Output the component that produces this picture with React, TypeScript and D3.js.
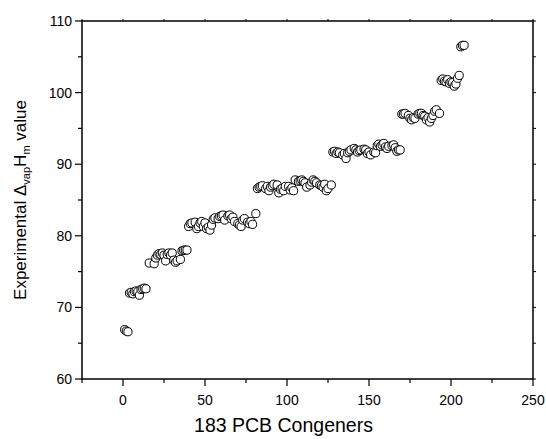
import React from "react";
import * as d3 from "d3";

const congeners: number[] = [
  1, 2, 3,
  4, 5, 6, 7, 8, 9, 10, 11, 12, 13, 14,
  16, 19, 20, 21, 22, 23, 24, 25, 26, 27, 28, 29, 30, 31, 32, 33, 35, 36, 37, 38, 39,
  40, 41, 42, 44, 45, 46, 47, 48, 49, 50, 51, 52, 53, 54, 55, 56, 58, 59, 60, 61, 62, 64, 65, 66, 67, 68, 70, 71, 72, 73, 74, 76, 77, 78, 79, 81,
  82, 83, 84, 85, 87, 88, 89, 90, 91, 92, 94, 95, 96, 97, 98, 99, 101, 102, 103, 104, 105, 107, 108, 109, 110, 111, 112, 114, 115, 116, 117, 118, 120, 121, 122, 123, 124, 125, 127,
  128, 129, 130, 131, 132, 134, 135, 136, 137, 138, 139, 141, 142, 143, 144, 145, 147, 148, 149, 150, 151, 153, 154, 155, 156, 157, 158, 159, 160, 161, 162, 164, 165, 166, 167, 168, 169,
  170, 171, 172, 174, 175, 176, 177, 178, 180, 181, 182, 183, 184, 185, 186, 187, 188, 189, 190, 191, 193,
  194, 195, 196, 197, 198, 199, 200, 201, 202, 203, 204, 205,
  206, 207, 208,
];

const enthalpies: number[] = [
  66.9, 66.7, 66.6,
  72.0, 72.1, 71.9, 72.2, 72.3, 72.2, 71.7, 72.5, 72.6, 72.7, 72.6,
  76.2, 76.1, 76.9, 77.3, 77.5, 77.4, 77.6, 77.3, 76.5, 77.4, 77.6, 77.3, 77.6, 76.6, 76.3, 76.5, 76.7, 77.9, 78.0, 78.0, 78.0,
  81.3, 81.7, 81.8, 81.9, 81.0, 81.3, 81.8, 82.0, 81.3, 81.8, 81.0, 81.2, 80.8, 81.5, 82.3, 82.5, 82.4, 82.7, 82.8, 82.9, 82.2, 82.8, 82.9, 82.4, 82.6, 82.0, 81.7, 81.5, 81.3, 82.2, 82.4, 81.9, 81.7, 82.0, 81.6, 83.1,
  86.6, 86.8, 86.9, 87.0, 86.6, 86.9, 86.3, 86.8, 87.0, 87.2, 87.1, 86.0, 86.5, 86.6, 86.3, 86.9, 86.9, 86.4, 86.7, 86.3, 87.8, 87.6, 87.7, 87.8, 87.6, 87.4, 86.8, 87.1, 87.5, 87.8, 87.6, 87.4, 87.1, 87.0, 86.8, 87.2, 86.3, 86.6, 87.1,
  91.7, 91.8, 91.5, 91.7, 91.6, 91.3, 91.5, 90.8, 91.6, 91.8, 92.0, 92.2, 92.0, 91.7, 91.9, 92.0, 92.1, 92.0, 91.5, 91.7, 91.3, 91.7, 91.6, 92.6, 92.8, 92.5, 92.7, 92.9, 92.4, 92.2, 92.5, 92.6, 92.7, 92.3, 91.8, 92.0, 92.0,
  97.0, 97.0, 97.1, 96.8, 96.4, 96.2, 96.5, 96.4, 97.0, 97.1, 97.1, 96.8, 96.7, 96.2, 96.5, 95.9, 96.4, 96.8, 97.4, 97.6, 97.1,
  101.7, 101.9, 101.6, 101.5, 101.8, 101.3, 101.5, 101.4, 100.9, 101.2, 102.0, 102.4,
  106.4, 106.6, 106.6,
];

const xTicks: number[] = [-25, 0, 25, 50, 75, 100, 125, 150, 175, 200, 225, 250];
const xLabels: number[] = [0, 50, 100, 150, 200, 250];
const yTicks: number[] = [60, 65, 70, 75, 80, 85, 90, 95, 100, 105, 110];
const yLabels: number[] = [60, 70, 80, 90, 100, 110];

const W = 546;
const H = 439;
const L = 82, R = 533, T = 21, B = 379;
const FONT = "'Liberation Sans', Arial, Helvetica, sans-serif";

export default function App() {
  const x = d3.scaleLinear().domain([-25, 250]).range([L, R]);
  const y = d3.scaleLinear().domain([60, 110]).range([B, T]);
  const pts = congeners.map((c, i) => ({ c, v: enthalpies[i] }));

  return (
    <svg
      width={W}
      height={H}
      viewBox={`0 0 ${W} ${H}`}
      style={{ position: "absolute", left: 0, top: 0, background: "#fff" }}
      fontFamily={FONT}
    >
      <rect x={0} y={0} width={W} height={H} fill="#fff" />
      <rect x={L} y={T} width={R - L} height={B - T} fill="none" stroke="#000" strokeWidth={1.5} />
      {xTicks.map((t) => {
        const major = t % 50 === 0;
        return (
          <line key={"xb" + t} x1={x(t)} x2={x(t)} y1={B} y2={B + (major ? 7 : 4)} stroke="#000" strokeWidth={1.2} />
        );
      })}
      {xTicks.map((t) => (
        <line key={"xt" + t} x1={x(t)} x2={x(t)} y1={T} y2={T - 2} stroke="#000" strokeWidth={1} />
      ))}
      {yTicks.map((t) => {
        const major = t % 10 === 0;
        return (
          <line key={"yl" + t} x1={L} x2={L - (major ? 7 : 4)} y1={y(t)} y2={y(t)} stroke="#000" strokeWidth={1.2} />
        );
      })}
      {yTicks.map((t) => (
        <line key={"yr" + t} x1={R} x2={R + 3} y1={y(t)} y2={y(t)} stroke="#000" strokeWidth={1} />
      ))}
      {xLabels.map((t) => (
        <text key={"xl" + t} x={x(t)} y={B + 26} fontSize={14} textAnchor="middle" fill="#000">
          {t}
        </text>
      ))}
      {yLabels.map((t) => (
        <text key={"ylb" + t} x={L - 10} y={y(t) + 5} fontSize={14} textAnchor="end" fill="#000">
          {t}
        </text>
      ))}
      <text x={(L + R) / 2 - 24} y={432} fontSize={19.5} textAnchor="middle" fill="#000">
        183 PCB Congeners
      </text>
      <text
        transform={`translate(26, ${(T + B) / 2}) rotate(-90)`}
        fontSize={17}
        textAnchor="middle"
        fill="#000"
      >
        Experimental Δ
        <tspan fontSize={11} dy={4}>vap</tspan>
        <tspan dy={-4}>H</tspan>
        <tspan fontSize={11} dy={4}>m</tspan>
        <tspan dy={-4}> value</tspan>
      </text>
      {pts.map((p) => (
        <circle key={"p" + p.c} cx={x(p.c)} cy={y(p.v)} r={4.1} fill="#fff" stroke="#000" strokeWidth={1} />
      ))}
    </svg>
  );
}
